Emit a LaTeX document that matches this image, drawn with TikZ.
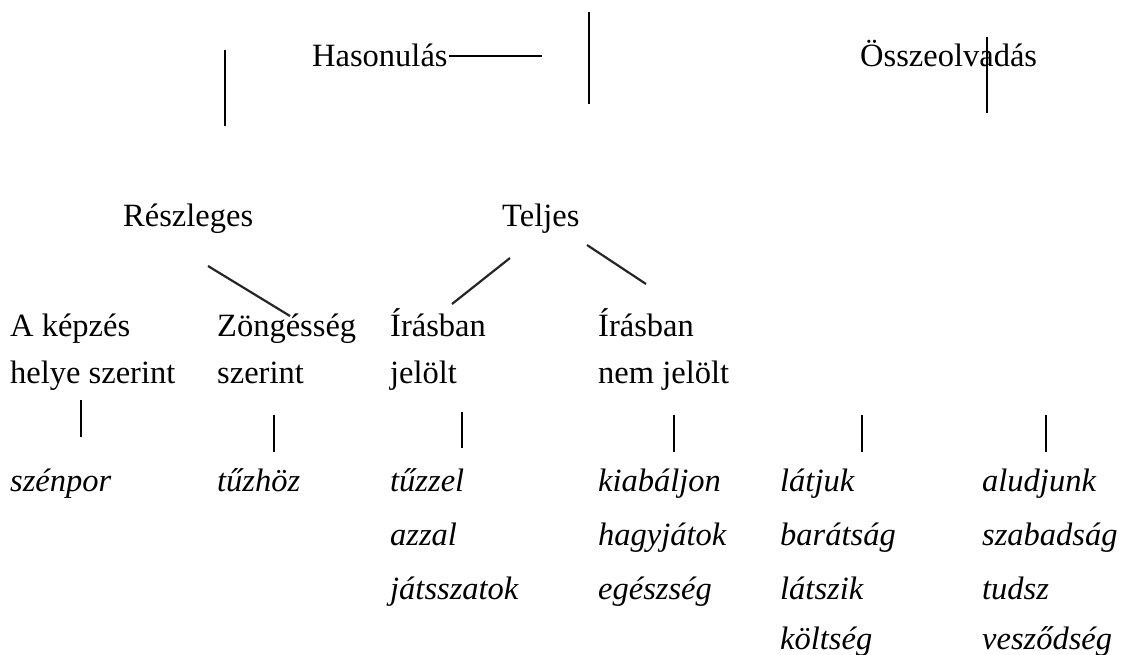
\documentclass[tikz,border=0pt]{standalone}
\usepackage{fontspec}
\setmainfont{Liberation Serif}
\begin{document}
\begin{tikzpicture}[x=1pt,y=-1pt,
  lbl/.style={inner sep=0pt,anchor=base west,font=\fontsize{32.5}{39}\selectfont},
  ex/.style={lbl,font=\fontsize{32.5}{39}\selectfont\itshape},
  bar/.style={line width=2.8pt,black},
  slant/.style={line width=2.2pt,black!85}]
\useasboundingbox (0,0) rectangle (1127,655);

% upper levels
\node[lbl] (has) at (312,67) {Hasonulás};
\node[lbl] (ossz) at (860,67) {Összeolvadás};
\node[lbl] (resz) at (123,227) {Részleges};
\node[lbl] (telj) at (502,227) {Teljes};

% subcategories
\node[lbl] (kep1) at (10,336) {A képzés};
\node[lbl] (kep2) at (10,383) {helye szerint};
\node[lbl] (zon1) at (217,336) {Zöngésség};
\node[lbl] (zon2) at (217,383) {szerint};
\node[lbl] (jel1) at (390,336) {Írásban};
\node[lbl] (jel2) at (390,383) {jelölt};
\node[lbl] (nem1) at (598,336) {Írásban};
\node[lbl] (nem2) at (598,383) {nem jelölt};

% examples
\node[ex] (e1a) at (10,491) {szénpor};
\node[ex] (e2a) at (217,491) {tűzhöz};
\node[ex] (e3a) at (390,491) {tűzzel};
\node[ex] (e3b) at (390,545) {azzal};
\node[ex] (e3c) at (390,599) {játsszatok};
\node[ex] (e4a) at (598,491) {kiabáljon};
\node[ex] (e4b) at (598,545) {hagyjátok};
\node[ex] (e4c) at (598,599) {egészség};
\node[ex] (e5a) at (780,491) {látjuk};
\node[ex] (e5b) at (780,545) {barátság};
\node[ex] (e5c) at (780,599) {látszik};
\node[ex] (e5d) at (780,649) {költség};
\node[ex] (e6a) at (982,491) {aludjunk};
\node[ex] (e6b) at (982,545) {szabadság};
\node[ex] (e6c) at (982,599) {tudsz};
\node[ex] (e6d) at (982,649) {vesződség};

% connector end points
\coordinate (v1t) at (225,50);   \coordinate (v1b) at (225,126);
\coordinate (h1l) at (449,56);   \coordinate (h1r) at (542,56);
\coordinate (v2t) at (589,12);   \coordinate (v2b) at (589,104);
\coordinate (v3t) at (987,37);   \coordinate (v3b) at (987,113);
\coordinate (d1a) at (208,266);  \coordinate (d1b) at (290,316);
\coordinate (d2a) at (510,258);  \coordinate (d2b) at (452,304);
\coordinate (d3a) at (587,245);  \coordinate (d3b) at (646,284);
\coordinate (s1t) at (81,400);   \coordinate (s1b) at (81,437);
\coordinate (s2t) at (274,415);  \coordinate (s2b) at (274,452);
\coordinate (s3t) at (462,412);  \coordinate (s3b) at (462,448);
\coordinate (s4t) at (674,415);  \coordinate (s4b) at (674,452);
\coordinate (s5t) at (862,415);  \coordinate (s5b) at (862,452);
\coordinate (s6t) at (1046,415); \coordinate (s6b) at (1046,452);

% connectors
\draw[bar] (v1t) -- (v1b);
\draw[bar] (h1l) -- (h1r);
\draw[bar] (v2t) -- (v2b);
\draw[bar] (v3t) -- (v3b);
\draw[slant] (d1a) -- (d1b);
\draw[slant] (d2a) -- (d2b);
\draw[slant] (d3a) -- (d3b);
\foreach \i in {1,...,6} \draw[bar] (s\i t) -- (s\i b);
\end{tikzpicture}
\end{document}
